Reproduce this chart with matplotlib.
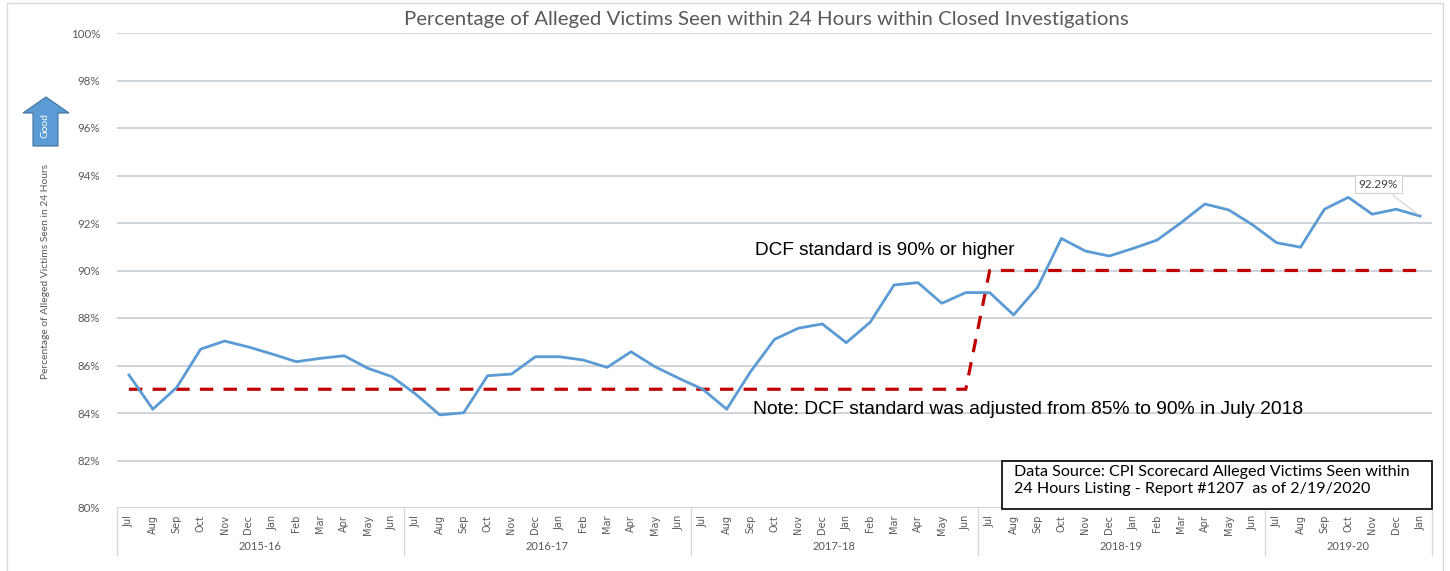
import numpy as np
import matplotlib
matplotlib.use("Agg")
import matplotlib.pyplot as plt
from matplotlib.patches import Polygon, Rectangle
from matplotlib.transforms import blended_transform_factory

# months Jul 2015 .. Jan 2020
months = ["Jul", "Aug", "Sep", "Oct", "Nov", "Dec",
          "Jan", "Feb", "Mar", "Apr", "May", "Jun"] * 4 + \
         ["Jul", "Aug", "Sep", "Oct", "Nov", "Dec", "Jan"]
fiscal_years = ["2015-16", "2016-17", "2017-18", "2018-19", "2019-20"]
year_sizes = [12, 12, 12, 12, 7]

pct_seen = [
    85.60, 84.16, 85.08, 86.69, 87.03, 86.78, 86.48, 86.16, 86.30, 86.41, 85.88, 85.53,
    84.79, 83.92, 84.01, 85.57, 85.64, 86.37, 86.37, 86.23, 85.92, 86.58, 85.95, 85.46,
    85.00, 84.16, 85.74, 87.10, 87.57, 87.75, 86.96, 87.82, 89.39, 89.49, 88.62, 89.07,
    89.07, 88.13, 89.29, 91.35, 90.82, 90.61, 90.93, 91.28, 92.01, 92.80, 92.55, 91.92,
    91.17, 90.98, 92.58, 93.08, 92.37, 92.58, 92.29,
]
standard = [85] * 36 + [90] * 19

W, H = 1450, 571
fig = plt.figure(figsize=(W / 100, H / 100), dpi=100)
ax = fig.add_axes([117 / W, 1 - 508 / H, (1432 - 117) / W, 475 / H])

x = np.arange(len(pct_seen))
grid_c = "#c3c8d0"
for v in range(80, 101, 2):
    ax.axhline(v, color=grid_c, lw=1.1, zorder=1)

ax.plot(x, standard, color="#c00000", lw=2.3, dashes=(4.2, 3.2), zorder=2)
ax.plot(x, pct_seen, color="#5b9bd5", lw=2.0, zorder=3)

ax.set_xlim(-0.5, len(x) - 0.5)
ax.set_ylim(80, 100)
ax.set_yticks(range(80, 101, 2))
ax.set_yticklabels([f"{v}%" for v in range(80, 101, 2)],
                   fontsize=8.3, color="#595959", family="Lato")
ax.set_xticks(x)
ax.set_xticklabels(months, rotation=90, fontsize=7, color="#595959",
                   family="DejaVu Sans", va="top")
ax.tick_params(length=0, pad=5)
ax.tick_params(axis="y", pad=12)
for s in ax.spines.values():
    s.set_visible(False)

# category group separators and year labels
tr = blended_transform_factory(ax.transData, ax.transAxes)
edges = np.concatenate([[0], np.cumsum(year_sizes)]) - 0.5
for e in edges:
    ax.plot([e, e], [0, -0.099], color="#d9d9d9", lw=1, transform=tr, clip_on=False)
for i, fy in enumerate(fiscal_years):
    ax.text((edges[i] + edges[i + 1]) / 2, -0.082, fy, transform=tr,
            ha="center", va="center", fontsize=8, color="#595959", family="Lato")

fig.text(766 / W, 1 - 20 / H,
         "Percentage of Alleged Victims Seen within 24 Hours within Closed Investigations",
         fontsize=14.7, color="#595959", family="Lato", ha="center", va="center")

fig.text(46 / W, 1 - 271 / H, "Percentage of Alleged Victims Seen in 24 Hours",
         rotation=90, ha="center", va="center", fontsize=7.4, color="#595959",
         family="Lato")

# annotations
ax.text(26.2, 90.85, "DCF standard is 90% or higher", fontsize=13.7,
        family="Liberation Sans", color="#000000", va="center")
ax.text(26.1, 84.15, "Note: DCF standard was adjusted from 85% to 90% in July 2018",
        fontsize=13.9, family="Liberation Sans", color="#000000", va="center")

# last value callout
last = len(x) - 1
ax.annotate(f"{pct_seen[-1]:.2f}%", xy=(last, pct_seen[-1]), xytext=(52.26, 93.64),
            fontsize=8.5, color="#404040", family="Lato", ha="center", va="center",
            bbox=dict(boxstyle="square,pad=0.3", fc="white", ec="#d0d0d0", lw=0.8),
            arrowprops=dict(arrowstyle="-", color="#d0d0d0", lw=0.8))

# data source box
fig.add_artist(Rectangle((1002 / W, 1 - 509 / H), 430 / W, 48 / H,
                         transform=fig.transFigure, fc="white", ec="black", lw=1.2, zorder=5))
fig.text(1014 / W, 1 - 472 / H, "Data Source: CPI Scorecard Alleged Victims Seen within",
         fontsize=11.6, family="Lato", va="center", zorder=6)
fig.text(1014 / W, 1 - 488.5 / H, "24 Hours Listing - Report #1207  as of 2/19/2020",
         fontsize=11.6, family="Lato", va="center", zorder=6)

# "Good" arrow
pts = [(46, 97), (69, 113), (58, 113), (58, 146), (33, 146), (33, 113), (23, 113)]
fig.add_artist(Polygon([(px / W, 1 - py / H) for px, py in pts], closed=True,
                       transform=fig.transFigure, fc="#5b9bd5", ec="#41719c", lw=0.8))
fig.text(45.5 / W, 1 - 125 / H, "Good", rotation=90, ha="center", va="center",
         fontsize=7.5, color="white", family="Lato")

# chart border
fig.add_artist(Rectangle((7 / W, -0.01), 1436 / W, 1 - 3 / H + 0.01,
                         transform=fig.transFigure, fill=False, ec="#d9d9d9", lw=1))

fig.savefig("out.png", dpi=100)
